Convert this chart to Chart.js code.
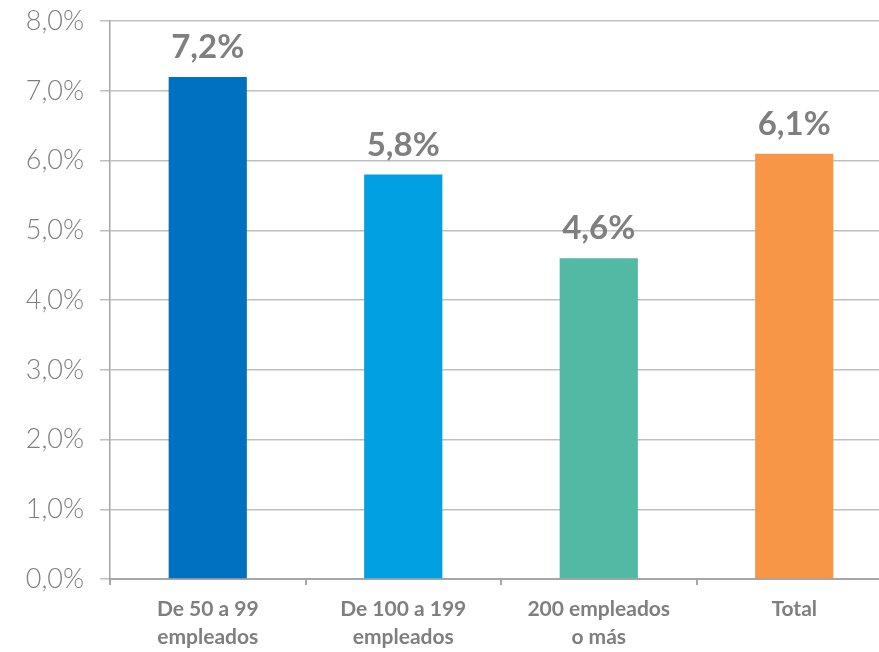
<!DOCTYPE html>
<html>
<head>
<meta charset="utf-8">
<script src="https://cdn.jsdelivr.net/npm/chart.js@4/dist/chart.umd.min.js"></script>
<style>
  html, body { margin: 0; padding: 0; background: #fff; overflow: hidden; }
  #wrap { position: relative; width: 892px; height: 663px; margin-top: -11px; }
</style>
</head>
<body>
<div id="wrap"><canvas id="chart"></canvas></div>
<script>
  'use strict';

  var categories = [['De 50 a 99', 'empleados'], ['De 100 a 199', 'empleados'], ['200 empleados', 'o más'], 'Total'];
  var values = [7.2, 5.8, 4.6, 6.1];
  var barColors = ['#0070C0', '#00A0E3', '#52B9A5', '#F79646'];

  function pct(v) {
    return v.toFixed(1).replace('.', ',') + '%';
  }

  // value labels above each bar
  var valueLabels = {
    id: 'valueLabels',
    afterDatasetsDraw: function (chart) {
      var ctx = chart.ctx;
      var meta = chart.getDatasetMeta(0);
      ctx.save();
      ctx.font = 'bold 33px Lato, "Open Sans", sans-serif';
      ctx.fillStyle = '#7F7F7F';
      ctx.textAlign = 'center';
      ctx.textBaseline = 'alphabetic';
      meta.data.forEach(function (bar, i) {
        ctx.fillText(pct(values[i]), bar.x, bar.y - 19);
      });
      ctx.restore();
    }
  };

  new Chart(document.getElementById('chart'), {
    type: 'bar',
    data: {
      labels: categories,
      datasets: [{
        data: values,
        backgroundColor: barColors,
        categoryPercentage: 1,
        barPercentage: 0.4
      }]
    },
    options: {
      responsive: true,
      maintainAspectRatio: false,
      animation: false,
      layout: { padding: { top: 0, right: 0, left: 0, bottom: 0 } },
      plugins: {
        legend: { display: false },
        tooltip: { enabled: false }
      },
      scales: {
        x: {
          grid: {
            display: true,
            drawOnChartArea: false,
            offset: true,
            tickLength: 6,
            color: '#A6A6A6',
            lineWidth: 2
          },
          border: { color: '#A6A6A6', width: 2 },
          ticks: {
            color: '#7F7F7F',
            padding: 11,
            maxRotation: 0,
            font: { family: 'Lato, "Open Sans", sans-serif', size: 21, weight: 'bold', lineHeight: 1.3 }
          },
          afterFit: function (scale) { scale.height = 73; }
        },
        y: {
          min: 0,
          max: 8,
          ticks: {
            stepSize: 1,
            color: '#7F7F7F',
            padding: 16,
            font: { family: 'Lato, "Open Sans", sans-serif', size: 27, weight: '300' },
            callback: function (v) { return pct(v); }
          },
          grid: { color: '#BFBFBF', lineWidth: 1.5, tickLength: 10 },
          border: { color: '#A6A6A6', width: 1.5 },
          afterFit: function (scale) { scale.width = 110; }
        }
      }
    },
    plugins: [valueLabels]
  });
</script>
</body>
</html>
